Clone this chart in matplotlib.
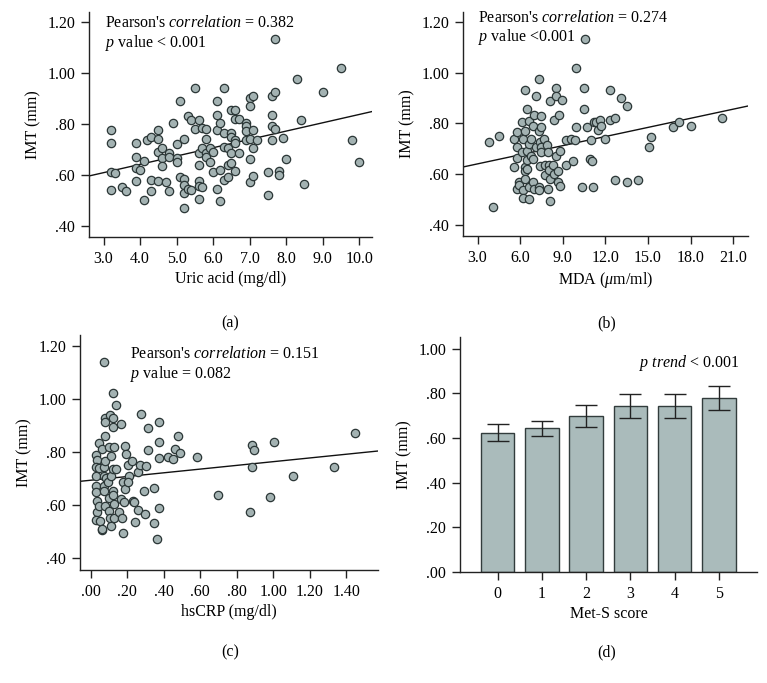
import numpy as np
import matplotlib
matplotlib.use('Agg')
import matplotlib.pyplot as plt
from matplotlib.ticker import FuncFormatter

plt.rcParams['font.family'] = ['Liberation Serif', 'DejaVu Serif']
plt.rcParams['mathtext.fontset'] = 'custom'
plt.rcParams['mathtext.rm'] = 'Liberation Serif'
plt.rcParams['mathtext.it'] = 'Liberation Serif:italic'

# (a) uric acid vs IMT
uric_x = [3.2, 3.2, 3.2, 3.3, 3.2, 3.5, 3.6, 3.9, 3.9, 3.9, 4.0, 3.9, 4.1, 4.1, 4.2, 4.3, 4.3, 4.3,
          4.5, 4.5, 4.5, 4.5, 4.6, 4.6, 4.6, 4.7, 4.8, 4.8, 4.8, 4.9, 5.0, 5.0, 5.0, 5.1, 5.1, 5.2,
          5.2, 5.2, 5.2, 5.2, 5.3, 5.3, 5.4, 5.4, 5.5, 5.5, 5.6, 5.6, 5.6, 5.6, 5.6, 5.6, 5.7, 5.7,
          5.7, 5.8, 5.8, 5.8, 5.8, 5.9, 5.9, 6.0, 6.0, 6.1, 6.1, 6.1, 6.1, 6.2, 6.2, 6.2, 6.3, 6.3,
          6.3, 6.3, 6.4, 6.4, 6.4, 6.5, 6.5, 6.5, 6.5, 6.5, 6.6, 6.6, 6.6, 6.6, 6.6, 6.7, 6.7, 6.9,
          6.9, 6.9, 6.9, 7.0, 7.0, 7.0, 7.0, 7.0, 7.1, 7.1, 7.1, 7.1, 7.2, 7.5, 7.5, 7.6, 7.6, 7.6,
          7.6, 7.7, 7.7, 7.7, 7.8, 7.8, 7.9, 8.0, 8.3, 8.4, 8.5, 9.0, 9.5, 9.8, 10.0]
uric_y = [0.775, 0.725, 0.61, 0.605, 0.54, 0.55, 0.535, 0.725, 0.67, 0.625, 0.62, 0.575, 0.655, 0.50,
          0.735, 0.75, 0.58, 0.535, 0.775, 0.74, 0.69, 0.575, 0.705, 0.665, 0.635, 0.57, 0.685, 0.67,
          0.535, 0.805, 0.72, 0.665, 0.65, 0.89, 0.59, 0.74, 0.585, 0.56, 0.53, 0.47, 0.83, 0.545,
          0.815, 0.54, 0.94, 0.78, 0.815, 0.685, 0.64, 0.575, 0.555, 0.505, 0.785, 0.705, 0.55, 0.78,
          0.74, 0.685, 0.67, 0.705, 0.65, 0.69, 0.61, 0.89, 0.835, 0.775, 0.545, 0.805, 0.62, 0.495,
          0.94, 0.765, 0.71, 0.58, 0.705, 0.64, 0.59, 0.855, 0.765, 0.75, 0.685, 0.645, 0.855, 0.82,
          0.735, 0.725, 0.615, 0.82, 0.685, 0.805, 0.79, 0.77, 0.735, 0.90, 0.87, 0.74, 0.66, 0.57,
          0.91, 0.775, 0.705, 0.595, 0.735, 0.52, 0.61, 0.91, 0.835, 0.79, 0.735, 1.135, 0.925, 0.78,
          0.615, 0.60, 0.745, 0.66, 0.975, 0.815, 0.565, 0.925, 1.02, 0.735, 0.65]
uric_fit = (0.51, 0.0327)

# (b) MDA vs IMT
mda_x = [3.78, 4.5, 4.06, 5.56, 5.56, 5.8, 5.8, 5.8, 5.8, 5.95, 5.95, 6.1, 6.1, 6.2, 6.2, 6.2, 6.35,
         6.35, 6.35, 6.35, 6.35, 6.47, 6.47, 6.47, 6.47, 6.6, 6.6, 6.6, 6.6, 6.76, 6.76, 6.9, 6.9,
         6.9, 7.0, 7.0, 7.14, 7.14, 7.3, 7.3, 7.3, 7.3, 7.4, 7.4, 7.5, 7.5, 7.5, 7.5, 7.65, 7.75,
         7.75, 7.86, 7.93, 7.93, 8.0, 8.0, 8.1, 8.1, 8.1, 8.3, 8.35, 8.4, 8.5, 8.5, 8.55, 8.65, 8.65,
         8.73, 8.8, 8.8, 8.95, 9.2, 9.25, 9.55, 9.7, 9.85, 9.9, 9.9, 10.35, 10.5, 10.5, 10.6, 10.7,
         10.9, 11.0, 11.05, 11.15, 11.2, 11.35, 11.5, 11.6, 11.7, 12.0, 12.3, 12.35, 12.65, 12.7,
         13.1, 13.5, 13.55, 14.3, 15.05, 15.25, 16.75, 17.2, 18.05, 20.2]
mda_y = [0.725, 0.75, 0.47, 0.74, 0.627, 0.765, 0.705, 0.665, 0.54, 0.57, 0.555, 0.805, 0.685, 0.74,
         0.535, 0.505, 0.93, 0.77, 0.627, 0.61, 0.58, 0.855, 0.69, 0.655, 0.62, 0.81, 0.72, 0.55, 0.50,
         0.74, 0.67, 0.79, 0.66, 0.57, 0.835, 0.54, 0.91, 0.705, 0.975, 0.77, 0.55, 0.535, 0.63, 0.725,
         0.83, 0.785, 0.705, 0.685, 0.74, 0.635, 0.595, 0.714, 0.54, 0.685, 0.635, 0.615, 0.89, 0.58,
         0.495, 0.635, 0.60, 0.815, 0.94, 0.672, 0.91, 0.57, 0.613, 0.835, 0.69, 0.553, 0.892, 0.735,
         0.634, 0.74, 0.65, 0.735, 1.02, 0.785, 0.55, 0.94, 0.855, 1.135, 0.785, 0.66, 0.735, 0.65,
         0.55, 0.805, 0.805, 0.775, 0.815, 0.79, 0.74, 0.93, 0.815, 0.82, 0.575, 0.90, 0.87, 0.57,
         0.575, 0.705, 0.745, 0.785, 0.805, 0.79, 0.82]
mda_fit = (0.604, 0.012)

# (c) hsCRP vs IMT
crp_x = [0.071, 0.12, 0.14, 0.08, 0.08, 0.106, 0.12, 0.12, 0.166, 0.08, 0.044, 0.064, 0.031, 0.035,
         0.031, 0.031, 0.031, 0.031, 0.035, 0.035, 0.031, 0.044, 0.044, 0.051, 0.06, 0.06, 0.071,
         0.071, 0.071, 0.071, 0.08, 0.08, 0.086, 0.093, 0.099, 0.099, 0.099, 0.106, 0.11, 0.11, 0.11,
         0.12, 0.12, 0.12, 0.13, 0.13, 0.137, 0.13, 0.157, 0.166, 0.17, 0.177, 0.188, 0.195, 0.18,
         0.188, 0.184, 0.206, 0.21, 0.203, 0.226, 0.232, 0.235, 0.245, 0.257, 0.257, 0.268, 0.275,
         0.292, 0.296, 0.301, 0.312, 0.316, 0.345, 0.349, 0.363, 0.374, 0.374, 0.374, 0.374, 0.424,
         0.452, 0.464, 0.478, 0.49, 0.58, 0.697, 0.872, 0.881, 0.885, 0.894, 0.98, 1.004, 1.108,
         1.332, 1.449]
crp_y = [1.139, 1.023, 0.977, 0.928, 0.912, 0.94, 0.928, 0.893, 0.903, 0.858, 0.833, 0.809, 0.789,
         0.768, 0.742, 0.708, 0.673, 0.648, 0.616, 0.572, 0.543, 0.597, 0.738, 0.538, 0.505, 0.511,
         0.742, 0.708, 0.673, 0.654, 0.767, 0.597, 0.70, 0.685, 0.818, 0.625, 0.578, 0.551, 0.784,
         0.71, 0.52, 0.651, 0.638, 0.736, 0.818, 0.603, 0.736, 0.552, 0.575, 0.622, 0.55, 0.495,
         0.821, 0.792, 0.688, 0.66, 0.612, 0.751, 0.71, 0.685, 0.767, 0.616, 0.61, 0.536, 0.725,
         0.58, 0.751, 0.942, 0.651, 0.565, 0.748, 0.808, 0.891, 0.662, 0.532, 0.471, 0.912, 0.837,
         0.777, 0.59, 0.782, 0.774, 0.811, 0.858, 0.794, 0.782, 0.637, 0.572, 0.824, 0.742, 0.808,
         0.63, 0.837, 0.71, 0.742, 0.872]
crp_fit = (0.693, 0.07)

# (d) Met-S score vs mean IMT
scores = [0, 1, 2, 3, 4, 5]
imt_mean = [0.624, 0.643, 0.698, 0.743, 0.743, 0.778]
imt_err = [0.039, 0.035, 0.048, 0.055, 0.052, 0.055]

face = '#a3b2b2'
edge = '#2b3636'
fs = 11.5


def lead(v, pos):
    s = '%.2f' % v
    return s[1:] if s.startswith('0') else s


fig = plt.figure(figsize=(7.67, 6.83), dpi=100)
W, H = 767, 683


def make_ax(l, t, r, b):
    ax = fig.add_axes([l / W, 1 - b / H, (r - l) / W, (b - t) / H])
    for s in ['top', 'right']:
        ax.spines[s].set_visible(False)
    for s in ['left', 'bottom']:
        ax.spines[s].set_linewidth(1.0)
        ax.spines[s].set_color('#222222')
    ax.tick_params(direction='out', length=6, width=1, labelsize=fs, color='#222222', pad=4)
    ax.yaxis.set_major_formatter(FuncFormatter(lead))
    ax.set_ylabel('IMT (mm)', fontsize=fs)
    return ax


def scatter_panel(ax, x, y, fit, xlim, xticks, xfmt, xlabel):
    ax.scatter(x, y, s=36, c=face, edgecolors=edge, linewidths=0.9, zorder=3)
    xx = np.array(xlim)
    ax.plot(xx, fit[0] + fit[1] * xx, color='#111111', lw=1.0, zorder=2)
    ax.set_xlim(xlim)
    ax.set_ylim(0.355, 1.24)
    ax.set_yticks([0.4, 0.6, 0.8, 1.0, 1.2])
    ax.set_xticks(xticks)
    ax.xaxis.set_major_formatter(FuncFormatter(xfmt))
    ax.set_xlabel(xlabel, fontsize=fs, labelpad=3)


ax1 = make_ax(89, 12, 372, 237)
scatter_panel(ax1, uric_x, uric_y, uric_fit, (2.6, 10.35), np.arange(3, 10.5, 1.0),
              lambda v, p: '%.1f' % v, 'Uric acid (mg/dl)')
ax1.text(0.057, 0.951, r"Pearson's $\mathit{correlation}$ = 0.382", transform=ax1.transAxes,
         fontsize=fs, va='center')
ax1.text(0.057, 0.862, r"$\mathit{p}$ value < 0.001", transform=ax1.transAxes,
         fontsize=fs, va='center')

ax2 = make_ax(463, 12, 748, 236)
scatter_panel(ax2, mda_x, mda_y, mda_fit, (1.97, 22.05), np.arange(3, 22, 3.0),
              lambda v, p: '%.1f' % v, r'MDA ($\mathit{\mu}$m/ml)')
ax2.text(0.053, 0.973, r"Pearson's $\mathit{correlation}$ = 0.274", transform=ax2.transAxes,
         fontsize=fs, va='center')
ax2.text(0.053, 0.888, r"$\mathit{p}$ value <0.001", transform=ax2.transAxes,
         fontsize=fs, va='center')

ax3 = make_ax(80, 335, 378, 570)
scatter_panel(ax3, crp_x, crp_y, crp_fit, (-0.058, 1.573), np.arange(0, 1.5, 0.2),
              lead, 'hsCRP (mg/dl)')
ax3.text(0.168, 0.919, r"Pearson's $\mathit{correlation}$ = 0.151", transform=ax3.transAxes,
         fontsize=fs, va='center')
ax3.text(0.168, 0.834, r"$\mathit{p}$ value = 0.082", transform=ax3.transAxes,
         fontsize=fs, va='center')

ax4 = make_ax(460, 337, 757, 572)
ax4.bar(scores, imt_mean, width=0.76, color='#aabbbb', edgecolor='#323c3c', linewidth=1.0,
        yerr=imt_err, error_kw=dict(ecolor='#222222', elinewidth=1.0, capsize=8, capthick=1.0))
ax4.set_xlim(-0.85, 5.86)
ax4.set_ylim(0, 1.052)
ax4.set_yticks([0, 0.2, 0.4, 0.6, 0.8, 1.0])
ax4.set_xticks(scores)
ax4.set_xlabel('Met-S score', fontsize=fs, labelpad=3)
ax4.text(0.94, 0.889, r"$\mathit{p\ trend}$ < 0.001", transform=ax4.transAxes,
         fontsize=fs, va='center', ha='right')

for lab, xc, yc in [('(a)', 230, 323), ('(b)', 607, 323), ('(c)', 230, 652), ('(d)', 607, 652)]:
    fig.text(xc / W, 1 - yc / H, lab, fontsize=fs, ha='center', va='center')

fig.savefig('out.png', dpi=100)
